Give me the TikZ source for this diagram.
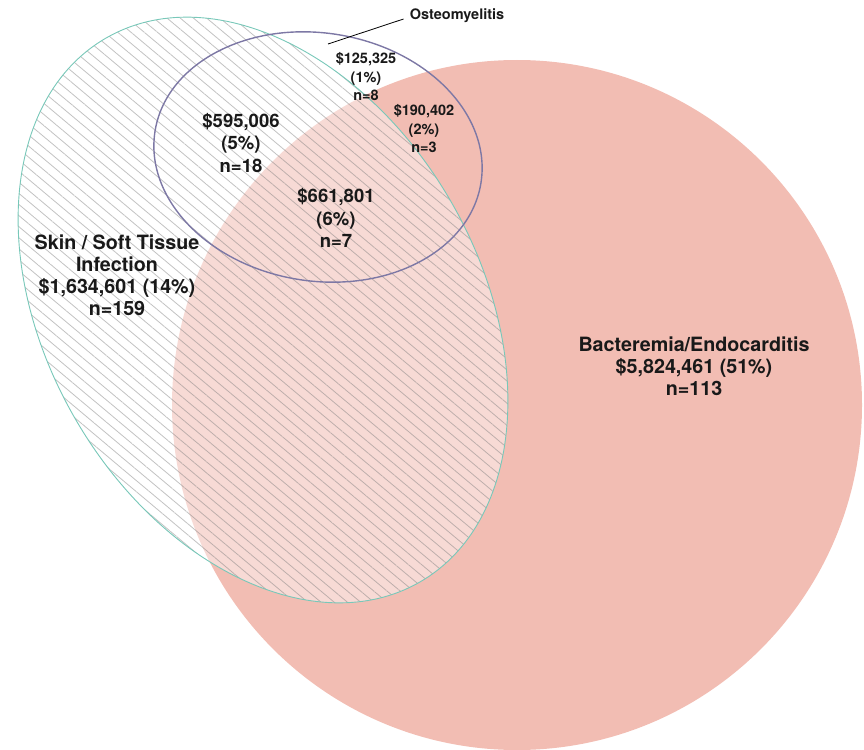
\documentclass[tikz,border=0pt]{standalone}
\usepackage{fontspec}
\setmainfont{TeX Gyre Heros}
\usepackage{tikz}
\usetikzlibrary{patterns.meta}
\definecolor{bactred}{RGB}{242,189,179}
\definecolor{skinteal}{RGB}{120,200,185}
\definecolor{osteopurple}{RGB}{125,120,165}
\definecolor{hatchgray}{RGB}{120,120,120}
\definecolor{labelblack}{RGB}{25,25,25}

\begin{document}
\begin{tikzpicture}[x=1pt,y=-1pt,
    every node/.style={text=labelblack,align=center,inner sep=0pt},
    biglabel/.style={font=\bfseries\fontsize{19.7}{22}\selectfont},
    midlabel/.style={font=\bfseries\fontsize{18.5}{22.5}\selectfont},
    smalllabel/.style={font=\bfseries\fontsize{14.5}{18.5}\selectfont}]
        \useasboundingbox (0,0) rectangle (864,749);
        \fill[bactred] (517,405) circle[radius=345pt];
        \fill[white,fill opacity=0.45,rotate around={-60:(263,310)}]
          (263,310) ellipse[x radius=314pt,y radius=217pt];
        \begin{scope}[transparency group,opacity=0.45]
          \clip[rotate around={-60:(263,310)}]
            (263,310) ellipse[x radius=314pt,y radius=217pt];
          \fill[pattern={Lines[angle=-40,distance=8.5pt,line width=0.8pt]},
            pattern color=hatchgray] (0,0) rectangle (864,749);
        \end{scope}
        \draw[skinteal,line width=0.9pt,rotate around={-60:(263,310)}]
          (263,310) ellipse[x radius=314pt,y radius=217pt];
        \draw[osteopurple,line width=1.4pt,rotate around={-9:(318,157)}]
          (318,157) ellipse[x radius=165pt,y radius=124pt];

        \node[smalllabel] (osteo) at (457,16) {Osteomyelitis};
        \coordinate (osteotip) at (328,44);
        \draw[line width=0.8pt] (osteotip) -- ([xshift=-6pt,yshift=-3pt]osteo.west);

        \node[smalllabel] (osteoonly) at (366,77) {\$125,325\\(1\%)\\n=8};
        \node[smalllabel] (osteobact) at (424,129) {\$190,402\\(2\%)\\n=3};
        \node[midlabel] (osteoskin) at (241,143) {\$595,006\\(5\%)\\n=18};
        \node[midlabel] (allthree) at (336,218) {\$661,801\\(6\%)\\n=7};
        \node[biglabel] (skin) at (117,275) {Skin / Soft Tissue\\Infection\\\$1,634,601 (14\%)\\n=159};
        \node[biglabel] (bact) at (694,366) {Bacteremia/Endocarditis\\\$5,824,461 (51\%)\\n=113};
      \end{tikzpicture}
\end{document}
